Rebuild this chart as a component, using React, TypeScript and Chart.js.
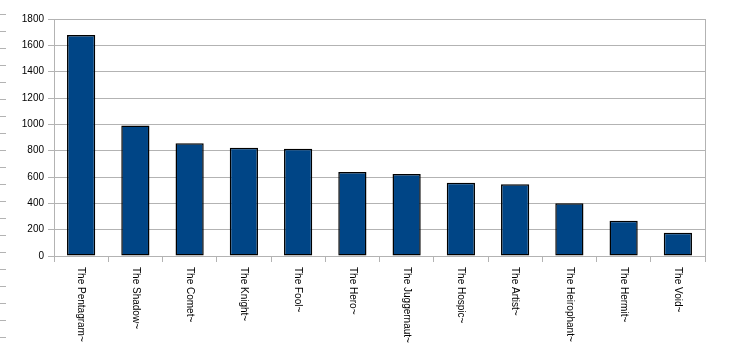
import React, { useEffect, useRef } from "react";
import { Chart, registerables } from "chart.js";

Chart.register(...registerables);

const categories = [
  "The Pentagram~",
  "The Shadow~",
  "The Comet~",
  "The Knight~",
  "The Fool~",
  "The Hero~",
  "The Juggernaut~",
  "The Hospic~",
  "The Artist~",
  "The Heirophant~",
  "The Hermit~",
  "The Void~",
];
const values = [1678, 992, 856, 823, 815, 638, 623, 557, 544, 400, 268, 177];
const yMin = 0;
const yMax = 1800;
const yStep = 200;

const GRID = "#b3b3b3";
const FONT = "'Liberation Sans', Arial, sans-serif";

const decorPlugin = {
  id: "decor",
  afterDraw(chart: any) {
    const { ctx, chartArea } = chart;
    const xs = chart.scales.x;
    ctx.save();
    // right border of the plot
    ctx.strokeStyle = GRID;
    ctx.lineWidth = 1;
    ctx.beginPath();
    const rx = Math.round(chartArea.right) + 0.5;
    ctx.moveTo(rx, chartArea.top);
    ctx.lineTo(rx, chartArea.bottom + 6);
    ctx.stroke();
    // left edge dashes (artifact in the reference)
    ctx.beginPath();
    for (let y = 14; y < 350; y += 17) {
      ctx.moveTo(0, y + 0.5);
      ctx.lineTo(6, y + 0.5);
    }
    ctx.stroke();
    // rotated category labels, reading top-to-bottom
    ctx.fillStyle = "#000";
    ctx.font = `10px ${FONT}`;
    ctx.textAlign = "left";
    ctx.textBaseline = "middle";
    categories.forEach((label, i) => {
      const x = xs.getPixelForValue(i);
      const y = xs.top + 11;
      ctx.save();
      ctx.translate(x, y);
      ctx.rotate(Math.PI / 2);
      ctx.fillText(label, 0, 0);
      ctx.restore();
    });
    ctx.restore();
  },
};

export default function App() {
  const ref = useRef<HTMLCanvasElement | null>(null);
  useEffect(() => {
    if (!ref.current) return;
    const chart = new Chart(ref.current, {
      type: "bar",
      data: {
        labels: categories,
        datasets: [
          {
            data: values,
            backgroundColor: "#004586",
            borderColor: "#000000",
            borderWidth: 1.5,
            borderSkipped: false,
            barPercentage: 0.52,
            categoryPercentage: 1,
          },
        ],
      },
      options: {
        responsive: false,
        animation: false,
        layout: { padding: { top: 19, right: 25, left: 0, bottom: 0 } },
        plugins: {
          legend: { display: false },
          tooltip: { enabled: false },
          title: { display: false },
        },
        scales: {
          x: {
            grid: {
              display: true,
              drawOnChartArea: false,
              drawTicks: true,
              tickLength: 6,
              color: GRID,
              offset: true,
            },
            border: { display: true, color: GRID },
            ticks: { display: false },
            afterFit: (s: any) => {
              s.height = 94;
            },
          },
          y: {
            min: yMin,
            max: yMax,
            ticks: {
              stepSize: yStep,
              color: "#000",
              padding: 4,
              font: { family: FONT, size: 10 },
              callback: (v: any) => String(v),
            },
            grid: { color: GRID, tickLength: 6 },
            border: { display: true, color: GRID },
            afterFit: (s: any) => {
              s.width = 54;
            },
          },
        },
      },
      plugins: [decorPlugin],
    });
    return () => chart.destroy();
  }, []);
  return (
    <canvas
      ref={ref}
      width={730}
      height={350}
      style={{ position: "absolute", left: 0, top: 0, display: "block" }}
    />
  );
}
